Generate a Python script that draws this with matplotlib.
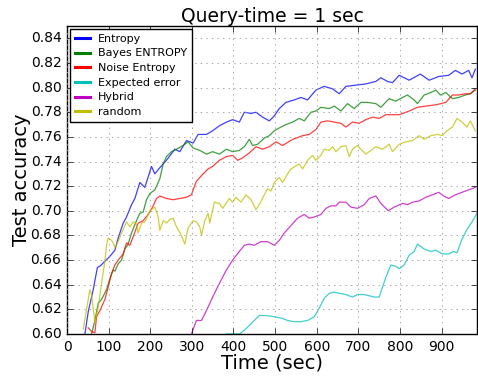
import matplotlib
matplotlib.use("Agg")
import matplotlib.pyplot as plt
import numpy as np

# values (time in sec, test accuracy)
t_entropy = [43, 51, 63, 73, 79, 91, 103, 115, 123, 135,
             143, 155, 163, 175, 187, 203, 211, 223, 239, 259,
             271, 287, 303, 315, 335, 350, 366, 383, 398, 414,
             426, 442, 454, 470, 486, 498, 510, 526, 546, 562,
             578, 598, 618, 638, 654, 670, 694, 718, 742, 754,
             770, 782, 798, 822, 849, 870, 893, 917, 933, 949,
             965, 973, 981]
entropy = [0.600, 0.618, 0.636, 0.654, 0.655, 0.659, 0.663, 0.668, 0.678, 0.690,
           0.695, 0.705, 0.710, 0.723, 0.719, 0.736, 0.730, 0.735, 0.741, 0.750,
           0.748, 0.757, 0.755, 0.762, 0.762, 0.765, 0.769, 0.772, 0.774, 0.772,
           0.780, 0.779, 0.780, 0.776, 0.773, 0.777, 0.783, 0.788, 0.790, 0.792,
           0.790, 0.798, 0.801, 0.799, 0.795, 0.801, 0.802, 0.803, 0.805, 0.808,
           0.805, 0.804, 0.810, 0.806, 0.811, 0.806, 0.809, 0.810, 0.814, 0.811,
           0.814, 0.808, 0.815]

t_bayes = [59, 67, 75, 83, 95, 103, 111, 115, 123, 131,
           139, 147, 155, 167, 175, 183, 191, 199, 211, 223,
           231, 239, 251, 263, 279, 291, 303, 319, 335, 350,
           366, 383, 398, 414, 426, 438, 446, 458, 474, 486,
           498, 514, 526, 542, 558, 570, 586, 598, 610, 630,
           642, 658, 674, 690, 706, 722, 742, 754, 774, 790,
           806, 818, 834, 842, 858, 874, 886, 897, 910, 926,
           941, 957, 969, 981]
bayes = [0.600, 0.611, 0.625, 0.628, 0.636, 0.645, 0.652, 0.651, 0.657, 0.660,
         0.669, 0.673, 0.682, 0.692, 0.698, 0.699, 0.709, 0.714, 0.717, 0.726,
         0.738, 0.744, 0.748, 0.750, 0.753, 0.756, 0.751, 0.749, 0.746, 0.748,
         0.746, 0.750, 0.748, 0.749, 0.752, 0.758, 0.753, 0.754, 0.759, 0.761,
         0.765, 0.768, 0.770, 0.772, 0.775, 0.773, 0.780, 0.781, 0.784, 0.783,
         0.785, 0.781, 0.787, 0.783, 0.788, 0.788, 0.787, 0.784, 0.791, 0.789,
         0.792, 0.794, 0.790, 0.787, 0.794, 0.796, 0.798, 0.794, 0.796, 0.791,
         0.792, 0.794, 0.795, 0.798]

t_noise = [51, 59, 67, 71, 79, 91, 99, 107, 115, 123,
           135, 143, 151, 159, 171, 183, 195, 207, 215, 223,
           239, 255, 271, 287, 299, 303, 311, 327, 339, 350,
           366, 383, 398, 410, 422, 438, 454, 470, 486, 502,
           518, 542, 566, 582, 598, 610, 626, 642, 658, 670,
           686, 702, 718, 734, 750, 766, 782, 798, 822, 842,
           862, 886, 910, 926, 941, 957, 969, 981]
noise = [0.605, 0.602, 0.601, 0.614, 0.619, 0.628, 0.638, 0.649, 0.656, 0.660,
         0.665, 0.674, 0.672, 0.679, 0.690, 0.692, 0.697, 0.704, 0.710, 0.712,
         0.710, 0.709, 0.710, 0.711, 0.713, 0.717, 0.724, 0.730, 0.734, 0.736,
         0.741, 0.744, 0.745, 0.741, 0.743, 0.747, 0.752, 0.750, 0.752, 0.756,
         0.753, 0.758, 0.761, 0.762, 0.766, 0.772, 0.773, 0.772, 0.771, 0.768,
         0.772, 0.771, 0.774, 0.776, 0.775, 0.778, 0.778, 0.778, 0.781, 0.784,
         0.785, 0.786, 0.788, 0.794, 0.794, 0.795, 0.795, 0.799]

t_expected = [383, 414, 426, 438, 450, 462, 478, 498, 514, 530,
              546, 562, 578, 594, 606, 618, 630, 642, 654, 670,
              686, 698, 714, 738, 750, 758, 766, 778, 790, 798,
              810, 822, 834, 842, 858, 874, 886, 902, 917, 929,
              937, 949, 961, 973, 985]
expected = [0.600, 0.600, 0.603, 0.607, 0.611, 0.615, 0.615, 0.614, 0.613, 0.611,
            0.610, 0.610, 0.611, 0.614, 0.621, 0.629, 0.633, 0.634, 0.633, 0.632,
            0.630, 0.632, 0.632, 0.630, 0.630, 0.638, 0.646, 0.656, 0.655, 0.653,
            0.656, 0.664, 0.667, 0.673, 0.669, 0.667, 0.668, 0.665, 0.665, 0.667,
            0.666, 0.677, 0.685, 0.691, 0.698]

t_hybrid = [299, 311, 323, 335, 350, 366, 383, 398, 414, 426,
            438, 450, 466, 482, 498, 510, 522, 538, 554, 570,
            582, 594, 610, 622, 634, 646, 654, 670, 682, 698,
            714, 726, 742, 754, 772, 786, 806, 818, 830, 846,
            862, 878, 893, 905, 917, 933, 949, 965, 981]
hybrid = [0.600, 0.611, 0.611, 0.619, 0.630, 0.641, 0.652, 0.660, 0.667, 0.672,
          0.673, 0.672, 0.675, 0.675, 0.672, 0.676, 0.682, 0.688, 0.694, 0.697,
          0.694, 0.695, 0.697, 0.702, 0.704, 0.704, 0.707, 0.707, 0.703, 0.702,
          0.705, 0.710, 0.712, 0.706, 0.700, 0.703, 0.706, 0.705, 0.707, 0.708,
          0.711, 0.713, 0.715, 0.712, 0.710, 0.713, 0.715, 0.717, 0.719]

t_random = [39, 51, 55, 59, 63, 67, 75, 83, 91, 95,
            99, 107, 111, 115, 123, 131, 139, 143, 151, 159,
            167, 171, 179, 187, 199, 211, 219, 223, 231, 239,
            247, 255, 263, 275, 283, 291, 303, 311, 319, 323,
            331, 339, 343, 354, 366, 374, 390, 398, 406, 418,
            430, 442, 454, 462, 474, 482, 490, 498, 510, 518,
            530, 538, 558, 566, 578, 590, 598, 610, 618, 630,
            638, 646, 658, 670, 678, 686, 698, 706, 718, 742,
            758, 774, 782, 798, 814, 830, 846, 858, 874, 890,
            902, 913, 926, 937, 949, 961, 969, 981]
random_q = [0.604, 0.628, 0.636, 0.632, 0.621, 0.609, 0.622, 0.641, 0.659, 0.672,
            0.678, 0.676, 0.674, 0.670, 0.675, 0.682, 0.688, 0.691, 0.687, 0.691,
            0.689, 0.682, 0.690, 0.691, 0.700, 0.703, 0.695, 0.684, 0.692, 0.690,
            0.693, 0.694, 0.687, 0.680, 0.673, 0.686, 0.692, 0.691, 0.687, 0.680,
            0.692, 0.698, 0.690, 0.707, 0.706, 0.702, 0.710, 0.707, 0.711, 0.707,
            0.713, 0.709, 0.701, 0.705, 0.713, 0.718, 0.716, 0.723, 0.727, 0.723,
            0.730, 0.734, 0.738, 0.734, 0.741, 0.745, 0.741, 0.745, 0.750, 0.749,
            0.752, 0.748, 0.752, 0.753, 0.744, 0.750, 0.753, 0.750, 0.746, 0.752,
            0.750, 0.754, 0.748, 0.754, 0.756, 0.757, 0.761, 0.758, 0.761, 0.762,
            0.761, 0.765, 0.768, 0.775, 0.772, 0.768, 0.773, 0.765]

plt.style.use("classic")

fig = plt.figure(figsize=(4.78, 3.76), dpi=100, facecolor="white")
ax = fig.add_axes([67 / 478, 42 / 376, 410 / 478, 308 / 376])

series = [
    (t_entropy, entropy, "b", "Entropy"),
    (t_bayes, bayes, "g", "Bayes ENTROPY"),
    (t_noise, noise, "r", "Noise Entropy"),
    (t_expected, expected, "c", "Expected error"),
    (t_hybrid, hybrid, "m", "Hybrid"),
    (t_random, random_q, "y", "random"),
]
for t, v, c, lab in series:
    ax.plot(t, v, color=c, lw=0.9, alpha=0.75, label=lab)

ax.set_xlim(0, 985)
ax.set_ylim(0.60, 0.85)
ax.set_xticks(np.arange(0, 901, 100))
ax.set_yticks(np.arange(0.60, 0.845, 0.02))
ax.set_yticklabels(["%.2f" % y for y in np.arange(0.60, 0.845, 0.02)])
ax.tick_params(labelsize=10)
ax.grid(True, color="0.6", linestyle=":", linewidth=0.6)

ax.set_xlabel("Time (sec)", fontsize=14, labelpad=0)
ax.set_ylabel("Test accuracy", fontsize=14, labelpad=0)
ax.set_title("Query-time = 1 sec", fontsize=13.5, pad=3)

leg = ax.legend(loc="upper left", fontsize=8, frameon=True, fancybox=False,
                handlelength=1.4, handletextpad=0.7, borderpad=0.45,
                labelspacing=0.42, numpoints=1, borderaxespad=0.25)
for h in leg.get_lines():
    h.set_linewidth(2.2)
    h.set_alpha(1)

fig.savefig("out.png", dpi=100, facecolor="white")
